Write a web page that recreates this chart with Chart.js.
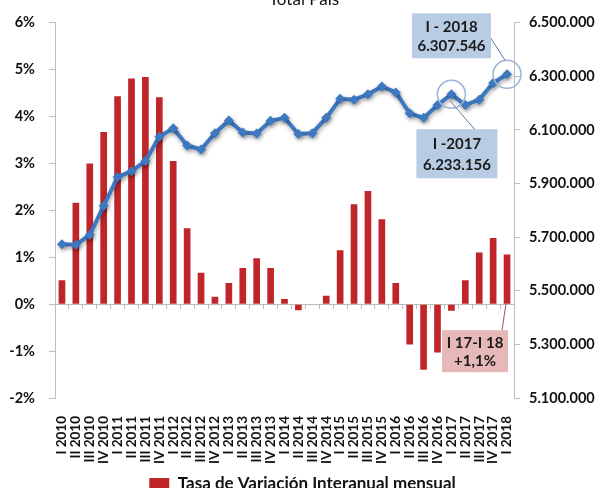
<!DOCTYPE html>
<html>
<head>
<meta charset="utf-8">
<script src="https://cdn.jsdelivr.net/npm/chart.js@4.4.1/dist/chart.umd.min.js"></script>
<style>
html,body{margin:0;padding:0;background:#fff;overflow:hidden;width:605px;height:488px;}
#wrap{position:absolute;left:0;top:0;width:605px;height:502px;}
</style>
</head>
<body>
<div id="wrap"><canvas id="c" width="605" height="502"></canvas></div>
<script>
const categories = [
  "I 2010","II 2010","III 2010","IV 2010",
  "I 2011","II 2011","III 2011","IV 2011",
  "I 2012","II 2012","III 2012","IV 2012",
  "I 2013","II 2013","III 2013","IV 2013",
  "I 2014","II 2014","III 2014","IV 2014",
  "I 2015","II 2015","III 2015","IV 2015",
  "I 2016","II 2016","III 2016","IV 2016",
  "I 2017","II 2017","III 2017","IV 2017",
  "I 2018"
];
// Tasa de Variación Interanual mensual (%)
const tasaVariacion = [
  0.51, 2.16, 3.00, 3.67,
  4.43, 4.81, 4.84, 4.41,
  3.05, 1.62, 0.67, 0.16,
  0.45, 0.77, 0.98, 0.77,
  0.11, -0.13, 0.01, 0.18,
  1.15, 2.13, 2.41, 1.81,
  0.45, -0.86, -1.40, -1.03,
  -0.14, 0.51, 1.10, 1.41,
  1.06
];
// Ocupados (personas)
const ocupados = [
  5674000, 5672000, 5708000, 5817000,
  5924000, 5946000, 5984000, 6075000,
  6106000, 6042000, 6027000, 6088000,
  6135000, 6090000, 6087000, 6134000,
  6145000, 6085000, 6088000, 6145000,
  6216000, 6213000, 6233000, 6262000,
  6240000, 6162000, 6145000, 6193000,
  6233156, 6193000, 6213000, 6275000,
  6307546
];
const leftTicks = [-2, -1, 0, 1, 2, 3, 4, 5, 6];
const rightTicks = [5100000, 5300000, 5500000, 5700000, 5900000, 6100000, 6300000, 6500000];
const titleText = "Total País";
const legendText = "Tasa de Variación Interanual mensual";
const callouts = [
  {index: 32, lines: ["I - 2018", "6.307.546"], kind: "line"},
  {index: 28, lines: ["I -2017", "6.233.156"], kind: "line"},
  {index: 32, lines: ["I 17-I 18", "+1,1%"], kind: "bar"}
];

const FONT = "Lato, 'Open Sans', sans-serif";
const fmtThousands = v => String(Math.round(v)).replace(/\B(?=(\d{3})+(?!\d))/g, ".");

const titlePlugin = {
  id: 'titleClip',
  afterDraw(chart) {
    const ctx = chart.ctx;
    ctx.save();
    ctx.font = "17px " + FONT;
    ctx.fillStyle = "#111";
    ctx.textAlign = "center";
    ctx.textBaseline = "alphabetic";
    ctx.fillText(titleText, 304, 5);
    ctx.restore();
  }
};

const shadowPlugin = {
  id: 'lineShadow',
  beforeDatasetDraw(chart, args) {
    if (args.meta.type === 'line') {
      const ctx = chart.ctx;
      ctx.save();
      ctx.shadowColor = "rgba(0,0,0,0.35)";
      ctx.shadowBlur = 4;
      ctx.shadowOffsetX = 1;
      ctx.shadowOffsetY = 2;
    }
  },
  afterDatasetDraw(chart, args) {
    if (args.meta.type === 'line') chart.ctx.restore();
  }
};

const calloutPlugin = {
  id: 'callouts',
  afterDatasetsDraw(chart) {
    const ctx = chart.ctx;
    const xs = chart.scales.x, yl = chart.scales.y, yr = chart.scales.y2;
    ctx.save();
    callouts.forEach((c, k) => {
      const px = xs.getPixelForValue(c.index);
      let box, anchor, from, fill, lineCol;
      if (c.kind === "line") {
        const py = yr.getPixelForValue(ocupados[c.index]);
        ctx.beginPath();
        ctx.arc(px, py, 14, 0, Math.PI * 2);
        ctx.strokeStyle = "#9fb6d3";
        ctx.lineWidth = 1.6;
        ctx.stroke();
        if (k === 0) {
          box = {x: px - 95, y: py - 61, w: 79, h: 45};
          from = [box.x + box.w - 4, box.y + 19];
          anchor = [px - 2, py - 14];
        } else {
          box = {x: px - 35, y: py + 35, w: 81, h: 49};
          from = [box.x + 59, box.y + 1];
          anchor = [px - 1, py + 7];
        }
        fill = "#b8cce4"; lineCol = "#5a7ba3";
      } else {
        const py0 = yl.getPixelForValue(0);
        box = {x: px - 65, y: py0 + 26, w: 66, h: 42};
        from = [box.x + 60, box.y];
        anchor = [px - 1, py0 - 1];
        fill = "#e6b9b8"; lineCol = "#b04a4a";
      }
      ctx.beginPath();
      ctx.moveTo(from[0], from[1]);
      ctx.lineTo(anchor[0], anchor[1]);
      ctx.strokeStyle = lineCol;
      ctx.lineWidth = 1;
      ctx.stroke();
      ctx.fillStyle = fill;
      ctx.fillRect(box.x, box.y, box.w, box.h);
      ctx.fillStyle = "#1a1a1a";
      ctx.font = "bold 15px " + FONT;
      ctx.textAlign = "center";
      ctx.textBaseline = "middle";
      const cx = box.x + box.w / 2;
      ctx.fillText(c.lines[0], cx, box.y + box.h * 0.3);
      ctx.fillText(c.lines[1], cx, box.y + box.h * 0.74);
    });
    ctx.restore();
  }
};

new Chart(document.getElementById('c'), {
  data: {
    labels: categories,
    datasets: [
      {
        type: 'line',
        label: 'Ocupados',
        data: ocupados,
        yAxisID: 'y2',
        xAxisID: 'x',
        borderColor: '#3d78c2',
        backgroundColor: '#3d78c2',
        borderWidth: 4,
        pointStyle: 'rectRot',
        pointRadius: 5,
        pointBorderWidth: 0,
        tension: 0,
        order: 0
      },
      {
        type: 'bar',
        label: legendText,
        data: tasaVariacion,
        yAxisID: 'y',
        xAxisID: 'x',
        backgroundColor: '#c02629',
        borderWidth: 0,
        categoryPercentage: 1,
        barPercentage: 0.48,
        order: 1
      }
    ]
  },
  options: {
    responsive: false,
    animation: false,
    devicePixelRatio: 1,
    layout: {padding: {top: 22, left: 0, right: 0, bottom: 0}},
    plugins: {
      tooltip: {enabled: false},
      title: {display: false},
      legend: {
        display: true,
        position: 'bottom',
        labels: {
          filter: item => item.text === legendText,
          boxWidth: 20,
          boxHeight: 11,
          color: '#111',
          font: {family: FONT, size: 17, weight: 'bold'},
          padding: 10
        }
      }
    },
    scales: {
      x: {
        type: 'category',
        position: 'bottom',
        offset: true,
        grid: {display: false, offset: true},
        border: {display: false},
        ticks: {
          autoSkip: false,
          minRotation: 90,
          maxRotation: 90,
          padding: 10,
          color: '#111',
          font: {family: FONT, size: 13.5, weight: 'bold'}
        },
        afterFit: s => { s.height = 67; }
      },
      x0: {
        type: 'category',
        axis: 'x',
        labels: categories,
        position: {y: 0},
        offset: true,
        grid: {display: true, offset: true, drawOnChartArea: false, drawTicks: true, tickLength: 4, color: '#bdbdbd'},
        border: {display: true, color: '#bdbdbd', width: 1},
        ticks: {display: false}
      },
      y: {
        type: 'linear',
        position: 'left',
        min: -2,
        max: 6,
        afterBuildTicks: s => { s.ticks = leftTicks.map(v => ({value: v})); },
        ticks: {
          padding: 14,
          color: '#111',
          font: {family: FONT, size: 14.5, weight: 'bold'},
          callback: v => v + '%'
        },
        grid: {display: true, drawOnChartArea: false, drawTicks: true, tickLength: 6, color: '#bdbdbd'},
        border: {display: true, color: '#bdbdbd'},
        afterFit: s => { s.width = 55; }
      },
      y2: {
        type: 'linear',
        position: 'right',
        min: 5100000,
        max: 6500000,
        afterBuildTicks: s => { s.ticks = rightTicks.map(v => ({value: v})); },
        ticks: {
          padding: 9,
          color: '#111',
          font: {family: FONT, size: 14.5, weight: 'bold'},
          callback: v => fmtThousands(v)
        },
        grid: {display: true, drawOnChartArea: false, drawTicks: true, tickLength: 6, color: '#bdbdbd'},
        border: {display: true, color: '#bdbdbd'},
        afterFit: s => { s.width = 91; }
      }
    }
  },
  plugins: [titlePlugin, shadowPlugin, calloutPlugin]
});
</script>
</body>
</html>
